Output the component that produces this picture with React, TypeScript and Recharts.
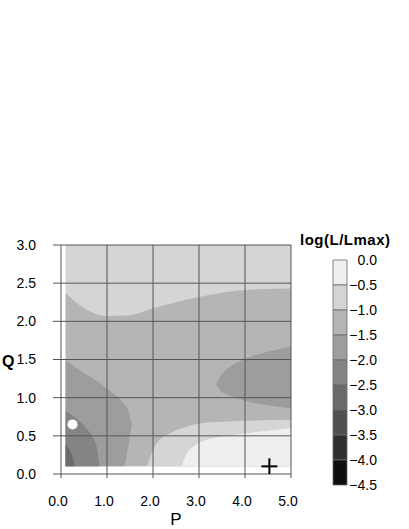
import React from "react";
import {
  ComposedChart,
  Area,
  XAxis,
  YAxis,
  ReferenceLine,
  Scatter,
  Label,
  BarChart,
  Bar,
} from "recharts";

const FONT = "'Liberation Sans', Arial, sans-serif";

const P_TICKS = [0, 1, 2, 3, 4, 5];
const Q_TICKS = [0, 0.5, 1, 1.5, 2, 2.5, 3];

// contour bands: q = [low, high] over p, painted from back to front
const BAND_TOP = [
  { p: 0.1, q: [0.1, 3] },
  { p: 5, q: [0.1, 3] },
];
const BAND_MID = [
  { p: 0.1, q: [0.1, 2.37] },
  { p: 0.41, q: [0.1, 2.21] },
  { p: 1.0, q: [0.1, 2.07] },
  { p: 1.5, q: [0.1, 2.08] },
  { p: 2.0, q: [0.1, 2.17] },
  { p: 3.0, q: [0.1, 2.32] },
  { p: 4.0, q: [0.1, 2.41] },
  { p: 5.0, q: [0.1, 2.43] },
];
const BAND_RING = [
  { p: 1.87, q: [0.1, 0.1] },
  { p: 1.94, q: [0.1, 0.23] },
  { p: 2.08, q: [0.1, 0.4] },
  { p: 2.3, q: [0.1, 0.51] },
  { p: 2.74, q: [0.1, 0.62] },
  { p: 3.0, q: [0.1, 0.66] },
  { p: 3.75, q: [0.1, 0.69] },
  { p: 5.0, q: [0.1, 0.71] },
];
const BAND_CORE = [
  { p: 2.63, q: [0.1, 0.1] },
  { p: 2.7, q: [0.1, 0.23] },
  { p: 2.88, q: [0.1, 0.36] },
  { p: 3.17, q: [0.1, 0.45] },
  { p: 3.75, q: [0.1, 0.51] },
  { p: 5.0, q: [0.1, 0.6] },
];
const BAND_BLOB = [
  { p: 3.37, q: [1.17, 1.17] },
  { p: 3.45, q: [1.1, 1.27] },
  { p: 3.6, q: [1.04, 1.37] },
  { p: 3.8, q: [1.0, 1.45] },
  { p: 4.0, q: [0.96, 1.51] },
  { p: 4.5, q: [0.9, 1.6] },
  { p: 5.0, q: [0.86, 1.67] },
];
const BAND_LEFT = [
  { p: 0.1, q: [0.1, 1.49] },
  { p: 0.41, q: [0.1, 1.36] },
  { p: 0.85, q: [0.1, 1.19] },
  { p: 1.1, q: [0.1, 1.07] },
  { p: 1.28, q: [0.1, 0.98] },
  { p: 1.36, q: [0.1, 0.93] },
  { p: 1.46, q: [0.36, 0.84] },
  { p: 1.54, q: [0.66, 0.66] },
];
const BAND_DARK = [
  { p: 0.1, q: [0.1, 0.83] },
  { p: 0.3, q: [0.1, 0.74] },
  { p: 0.59, q: [0.1, 0.57] },
  { p: 0.72, q: [0.1, 0.45] },
  { p: 0.78, q: [0.1, 0.34] },
  { p: 0.82, q: [0.1, 0.18] },
  { p: 0.84, q: [0.1, 0.1] },
];
const BAND_DARKER = [
  { p: 0.1, q: [0.1, 0.38] },
  { p: 0.18, q: [0.1, 0.32] },
  { p: 0.24, q: [0.1, 0.24] },
  { p: 0.28, q: [0.1, 0.15] },
  { p: 0.29, q: [0.1, 0.1] },
];

const BEST_FIT = [{ p: 0.25, q: 0.65 }];
const TRUE_VALUE = [{ p: 4.53, q: 0.1 }];

// colour bar
const LEVELS = [0, -0.5, -1, -1.5, -2, -2.5, -3, -3.5, -4, -4.5];
const LEVEL_COLORS = [
  "#efefef",
  "#d5d5d5",
  "#b5b5b5",
  "#9d9d9d",
  "#848484",
  "#6a6a6a",
  "#505050",
  "#303030",
  "#0e0e0e",
];
const SIGMA_TICKS = [-0.5, -2, -4.5];
const SIGMA_LABELS = ["1", "2", "3"];

const bandLayers = [
  { data: BAND_TOP, fill: LEVEL_COLORS[1], type: "linear" },
  { data: BAND_MID, fill: LEVEL_COLORS[2], type: "monotone" },
  { data: BAND_RING, fill: LEVEL_COLORS[1], type: "monotone" },
  { data: BAND_CORE, fill: LEVEL_COLORS[0], type: "monotone" },
  { data: BAND_BLOB, fill: LEVEL_COLORS[3], type: "monotone" },
  { data: BAND_LEFT, fill: LEVEL_COLORS[3], type: "monotone" },
  { data: BAND_DARK, fill: LEVEL_COLORS[4], type: "monotone" },
  { data: BAND_DARKER, fill: LEVEL_COLORS[5], type: "monotone" },
];

const barRow = [
  LEVEL_COLORS.reduce((row: any, _c, i) => {
    row[`b${i}`] = LEVELS[i + 1] - LEVELS[i];
    return row;
  }, { k: "bar" }),
];

const GRID = "#555555";

const PTick = ({ x, y, payload }: any) => (
  <text x={x - 3} y={y} dy="0.71em" textAnchor="middle" fontSize={14} fontFamily={FONT} fill="#000">
    {payload.value.toFixed(1)}
  </text>
);

const LevelTick = ({ x, y, payload }: any) => (
  <text x={x + 30} y={y} dy="0.36em" textAnchor="end" fontSize={14} fontFamily={FONT} fill="#000">
    {payload.value === 0 ? "0.0" : "\u2212" + Math.abs(payload.value).toFixed(1)}
  </text>
);

const SigmaTick = ({ x, y, payload }: any) => (
  <text x={x - 9} y={y} dy="0.4em" textAnchor="end" fontSize={14} fontFamily={FONT} fill="#000">
    <tspan fontWeight="bold">{SIGMA_LABELS[SIGMA_TICKS.indexOf(payload.value)]}</tspan>
    <tspan dx={2} fontStyle="italic">σ</tspan>
  </text>
);

const Dot = ({ cx, cy }: any) => <circle cx={cx} cy={cy} r={5} fill="#fff" />;

const Cross = ({ cx, cy }: any) => (
  <g stroke="#000" strokeWidth={2}>
    <line x1={cx - 8} y1={cy} x2={cx + 8} y2={cy} />
    <line x1={cx} y1={cy - 8} x2={cx} y2={cy + 8} />
  </g>
);

export default function App() {
  return (
    <div style={{ position: "absolute", left: 0, top: 0, width: 409, height: 529, background: "#fff" }}>
      <div style={{ position: "absolute", left: 0, top: 0 }}>
        <ComposedChart width={300} height={529} margin={{ top: 245, right: 9, bottom: 0, left: 0 }}>
          <XAxis
            dataKey="p"
            type="number"
            domain={[0, 5]}
            ticks={P_TICKS}
            allowDataOverflow
            height={55}
            axisLine={false}
            tickSize={4}
            tickMargin={18}
            tickLine={{ stroke: GRID }}
            tick={<PTick />}
          >
            <Label value="P" position="insideBottom" offset={4} fontSize={17} fontFamily={FONT} fill="#000" />
          </XAxis>
          <YAxis
            dataKey="q"
            type="number"
            domain={[0, 3]}
            ticks={Q_TICKS}
            allowDataOverflow
            width={61}
            axisLine={false}
            tickSize={8}
            tickMargin={17}
            tickLine={{ stroke: GRID }}
            tickFormatter={(v: number) => v.toFixed(1)}
            tick={{ fontSize: 14, fontFamily: FONT, fill: "#000" }}
          >
            <Label
              value="Q"
              position="insideLeft"
              offset={2}
              dy={2}
              fontSize={16}
              fontWeight="bold"
              fontFamily={FONT}
              fill="#000"
            />
          </YAxis>
          {bandLayers.map((b, i) => (
            <Area
              key={i}
              data={b.data}
              dataKey="q"
              type={b.type as any}
              fill={b.fill}
              fillOpacity={1}
              stroke="none"
              dot={false}
              activeDot={false}
              isAnimationActive={false}
            />
          ))}
          {P_TICKS.map((p) => (
            <ReferenceLine key={`x${p}`} x={p} stroke={GRID} strokeWidth={1} />
          ))}
          {Q_TICKS.map((q) => (
            <ReferenceLine key={`y${q}`} y={q} stroke={GRID} strokeWidth={1} />
          ))}
          <Scatter data={BEST_FIT} dataKey="q" shape={<Dot />} isAnimationActive={false} />
          <Scatter data={TRUE_VALUE} dataKey="q" shape={<Cross />} isAnimationActive={false} />
        </ComposedChart>
      </div>
      <div
        style={{
          position: "absolute",
          left: 300,
          top: 231,
          fontFamily: FONT,
          fontWeight: "bold",
          fontSize: 15,
          letterSpacing: 0.5,
          color: "#000",
          whiteSpace: "nowrap",
        }}
      >
        log(L/Lmax)
      </div>
      <div style={{ position: "absolute", left: 290, top: 0 }}>
        <BarChart
          width={119}
          height={529}
          data={barRow}
          margin={{ top: 260, right: 0, bottom: 44, left: 0 }}
          barCategoryGap={0}
          barGap={0}
        >
          <XAxis dataKey="k" hide />
          <YAxis
            yAxisId="l"
            orientation="left"
            width={43}
            type="number"
            domain={[-4.5, 0]}
            ticks={SIGMA_TICKS}
            axisLine={false}
            tickLine={false}
            tickSize={0}
            tickMargin={0}
            tick={<SigmaTick />}
          />
          <YAxis
            yAxisId="r"
            orientation="right"
            width={62}
            type="number"
            domain={[-4.5, 0]}
            ticks={LEVELS}
            axisLine={false}
            tickLine={false}
            tickSize={0}
            tickMargin={0}
            tick={<LevelTick />}
          />
          {LEVEL_COLORS.map((c, i) => (
            <Bar
              key={i}
              dataKey={`b${i}`}
              stackId="s"
              yAxisId="r"
              fill={c}
              stroke="#6a6a6a"
              strokeWidth={0.8}
              isAnimationActive={false}
            />
          ))}
        </BarChart>
      </div>
    </div>
  );
}
